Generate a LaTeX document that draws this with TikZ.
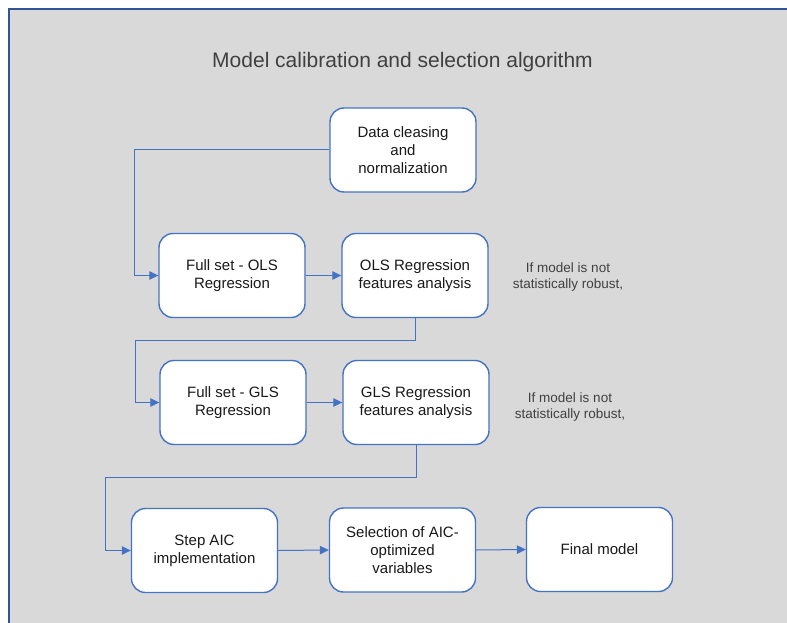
\documentclass[tikz,border=0pt]{standalone}
\usepackage{fontspec}
\setmainfont{Liberation Sans}
\usetikzlibrary{arrows.meta}
\definecolor{bgray}{HTML}{D9D9D9}
\definecolor{boxblue}{HTML}{4472C4}
\definecolor{frameblue}{HTML}{2F5597}
\definecolor{txtgray}{HTML}{404040}
\begin{document}
\begin{tikzpicture}[x=1pt,y=-1pt,
  stepbox/.style={draw=boxblue, line width=1.4pt, fill=white, rounded corners=14pt,
    minimum width=146pt, minimum height=84pt, inner sep=0pt, align=center,
    font=\fontsize{15}{18}\selectfont, text=black!90},
  conn/.style={draw=boxblue, line width=1pt},
  arr/.style={conn, -{Triangle[length=9pt,width=8.5pt]}},
  note/.style={align=center, font=\fontsize{13.5}{16}\selectfont, text=txtgray}]
\useasboundingbox (0,0) rectangle (787,623);
\fill[white] (0,0) rectangle (787,623);
\fill[bgray] (8.5,9.5) rectangle (787,623);
\draw[frameblue, line width=2pt] (8.5,623) -- (8.5,9.5) -- (787,9.5);
\node[font=\fontsize{21}{25}\selectfont, text=txtgray] (title) at (402.5,62) {Model calibration and selection algorithm};

\node[stepbox] (data) at (403,150) {Data cleasing\\and\\normalization};
\node[stepbox] (ols) at (232,275.5) {Full set - OLS\\Regression};
\node[stepbox] (olsf) at (415,275.5) {OLS Regression\\features analysis};
\node[stepbox] (gls) at (233,402.5) {Full set - GLS\\Regression};
\node[stepbox] (glsf) at (416,402.5) {GLS Regression\\features analysis};
\node[stepbox] (step) at (204.5,550.5) {Step AIC\\implementation};
\node[stepbox] (sel) at (402.5,550) {Selection of AIC-\\optimized\\variables};
\node[stepbox] (fin) at (599.5,549.5) {Final model};

\node[note] (n1) at (568,277) {If model is not\\statistically robust,};
\node[note] (n2) at (570,407) {If model is not\\statistically robust,};

\coordinate (k1) at (134,150);
\coordinate (b1) at (135,340);
\coordinate (b2) at (105,477);

\draw[arr] (data.west) -- (k1) |- (ols.west);
\draw[arr] (ols.east) -- (olsf.west);
\draw[arr] (olsf.south) |- (b1) |- (gls.west);
\draw[arr] (gls.east) -- (glsf.west);
\draw[arr] (glsf.south) |- (b2) |- (step.west);
\draw[arr] (step.east) -- (sel.west);
\draw[arr] (sel.east) -- (fin.west);
\end{tikzpicture}
\end{document}
